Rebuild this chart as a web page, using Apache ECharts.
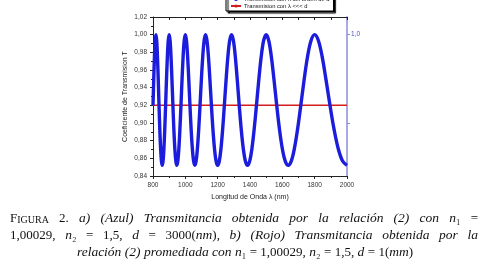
<!DOCTYPE html>
<html><head><meta charset="utf-8">
<script src="https://cdn.jsdelivr.net/npm/echarts@6/dist/echarts.min.js"></script>
<style>html,body{margin:0;padding:0;background:#fff}#c{width:489px;height:272px}</style>
</head><body><div id="c"></div>
<script>
// Wavelength samples (nm)
const lambdaBlue = [800, 804.5, 809.0, 813.6, 818.2, 822.9, 827.6, 832.4, 837.2, 842.1, 847.1, 852.1, 857.1, 862.3, 867.5, 872.7, 878.0, 883.4, 888.9, 894.4, 900, 905.7, 911.4, 917.2, 923.1, 929.0, 935.1, 941.2, 947.4, 953.6, 960, 966.4, 973.0, 979.6, 986.3, 993.1, 1000, 1007.0, 1014.1, 1021.3, 1028.6, 1036.0, 1043.5, 1051.1, 1058.8, 1066.7, 1074.6, 1082.7, 1090.9, 1099.2, 1107.7, 1116.3, 1125, 1133.9, 1142.9, 1152, 1161.3, 1170.7, 1180.3, 1190.1, 1200, 1210.1, 1220.3, 1230.8, 1241.4, 1252.2, 1263.2, 1274.3, 1285.7, 1297.3, 1309.1, 1321.1, 1333.3, 1345.8, 1358.5, 1371.4, 1384.6, 1398.1, 1411.8, 1425.7, 1440, 1454.5, 1469.4, 1484.5, 1500, 1515.8, 1531.9, 1548.4, 1565.2, 1582.4, 1600, 1618.0, 1636.4, 1655.2, 1674.4, 1694.1, 1714.3, 1734.9, 1756.1, 1777.8, 1800, 1822.8, 1846.2, 1870.1, 1894.7, 1920, 1945.9, 1972.6, 2000];
// Transmission T (blue)
const tBlue = [0.9201, 0.9491, 0.9752, 0.9934, 1.0,
  0.9934, 0.9752, 0.9491, 0.9201, 0.8928, 0.8709, 0.8569, 0.8521, 0.8569, 0.8709, 0.8928, 0.9201, 0.9491, 0.9752, 0.9934, 1.0,
  0.9934, 0.9752, 0.9491, 0.9201, 0.8928, 0.8709, 0.8569, 0.8521, 0.8569, 0.8709, 0.8928, 0.9201, 0.9491, 0.9752, 0.9934, 1.0,
  0.9934, 0.9752, 0.9491, 0.9201, 0.8928, 0.8709, 0.8569, 0.8521, 0.8569, 0.8709, 0.8928, 0.9201, 0.9491, 0.9752, 0.9934, 1.0,
  0.9934, 0.9752, 0.9491, 0.9201, 0.8928, 0.8709, 0.8569, 0.8521, 0.8569, 0.8709, 0.8928, 0.9201, 0.9491, 0.9752, 0.9934, 1.0,
  0.9934, 0.9752, 0.9491, 0.9201, 0.8928, 0.8709, 0.8569, 0.8521, 0.8569, 0.8709, 0.8928, 0.9201, 0.9491, 0.9752, 0.9934, 1.0,
  0.9934, 0.9752, 0.9491, 0.9201, 0.8928, 0.8709, 0.8569, 0.8521, 0.8569, 0.8709, 0.8928, 0.9201, 0.9491, 0.9752, 0.9934, 1.0,
  0.9934, 0.9752, 0.9491, 0.9201, 0.8928, 0.8709, 0.8569, 0.8521];
// Averaged transmission (red)
const lambdaRed = [800, 2000];
const tRed = [0.92, 0.92];

const seriesNames = ['Transmision con \u03bb del orden de d', 'Transmision con \u03bb <<< d'];
const xTitle = 'Longitud de Onda \u03bb (nm)';
const yTitle = 'Coeficiente de Transmision T';

// Caption: words made of [style, text] pieces; R roman, I italic, C small caps
const capLine1 = [[['R','F'],['C','IGURA']],[['R','2.']],[['I','a)']],[['I','(Azul)']],[['I','Transmitancia']],[['I','obtenida']],[['I','por']],[['I','la']],[['I','relación']],[['I','(2)']],[['I','con']],[['I','n'],['R','\u2081']],[['R','=']]];
const capLine2 = [[['R','1,00029,']],[['I','n'],['R','\u2082']],[['R','=']],[['R','1,5,']],[['I','d']],[['R','=']],[['R','3000('],['I','nm'],['R','),']],[['I','b)']],[['I','(Rojo)']],[['I','Transmitancia']],[['I','obtenida']],[['I','por']],[['I','la']]];
const capLine3 = [[['I','relación']],[['I','(2)']],[['I','promediada']],[['I','con']],[['I','n'],['R','\u2081']],[['R','=']],[['R','1,00029,']],[['I','n'],['R','\u2082']],[['R','=']],[['R','1,5,']],[['I','d']],[['R','=']],[['R','1('],['I','mm'],['R',')']]];

const fmt = v => v.toFixed(2).replace('.', ',');
const chart = echarts.init(document.getElementById('c'), null, {renderer: 'canvas'});

const fs = 13;
const fonts = {R: fs + 'px "Liberation Serif"', I: 'italic ' + (fs + 0.5) + 'px "Liberation Serif"', C: Math.round(fs*0.8) + 'px "Liberation Serif"'};
const mctx = document.createElement('canvas').getContext('2d');
function w(piece){ mctx.font = fonts[piece[0]]; return mctx.measureText(piece[1]).width; }
const graphics = [];
function layLine(words, baseY, mode, left, right, center){
  const ww = words.map(wd => wd.reduce((s,p)=>s+w(p),0));
  const total = ww.reduce((a,b)=>a+b,0);
  let gap, x;
  if (mode === 'justify'){ gap = (right - left - total)/(words.length-1); x = left; }
  else { gap = 3.4; x = center - (total + gap*(words.length-1))/2; }
  words.forEach((wd,i)=>{
    let px = x;
    wd.forEach(p=>{
      graphics.push({type:'text', x:px, y:baseY, silent:true,
        style:{text:p[1], font:fonts[p[0]], fill:'#111', textAlign:'left', verticalAlign:'bottom', textVerticalAlign:'bottom'}});
      px += w(p);
    });
    x += ww[i] + gap;
  });
}
layLine(capLine1, 225, 'justify', 10, 478);
layLine(capLine2, 242, 'justify', 10, 478);
layLine(capLine3, 259, 'center', 0, 0, 245);

const axisFont = {fontFamily: 'Liberation Sans', fontSize: 6.5, color: '#333'};
chart.setOption({
  animation: false,
  grid: {left: 153, right: 142, top: 17, bottom: 96},
  legend: {
    orient: 'vertical', left: 226, top: -6, itemGap: 1, padding: [2, 4, 2, 4],
    itemWidth: 10, itemHeight: 4,
    backgroundColor: '#fff', borderColor: '#000', borderWidth: 1,
    shadowColor: '#000', shadowBlur: 1, shadowOffsetX: 2, shadowOffsetY: 2,
    textStyle: {fontFamily: 'Liberation Sans', fontSize: 5.8, color: '#111', padding: [0,0,0,-2]},
    data: [{name: seriesNames[0], icon: 'circle'}, {name: seriesNames[1]}]
  },
  xAxis: [
    {type: 'value', min: 800, max: 2000, interval: 200, position: 'bottom',
     axisLine: {lineStyle: {color: '#222', width: 1}},
     axisTick: {inside: false, length: 3, lineStyle: {color: '#222'}},
     minorTick: {show: true, splitNumber: 2, length: 2, lineStyle: {color: '#222'}},
     axisLabel: Object.assign({margin: 6, formatter: v => String(v)}, axisFont),
     splitLine: {show: false},
     name: xTitle, nameLocation: 'middle', nameGap: 18,
     nameTextStyle: {fontFamily: 'Liberation Sans', fontSize: 7, color: '#222'}},
    {type: 'value', min: 800, max: 2000, interval: 200, position: 'top',
     axisLine: {lineStyle: {color: '#222', width: 1}},
     axisTick: {inside: true, length: 3, lineStyle: {color: '#222'}},
     minorTick: {show: true, splitNumber: 2, length: 3, lineStyle: {color: '#222'}},
     axisLabel: {show: false}, splitLine: {show: false}}
  ],
  yAxis: [
    {type: 'value', min: 0.84, max: 1.02, interval: 0.02, position: 'left',
     axisLine: {show: true, lineStyle: {color: '#222', width: 1}},
     axisTick: {show: true, inside: false, length: 3, lineStyle: {color: '#222'}},
     minorTick: {show: true, splitNumber: 2, length: 2, lineStyle: {color: '#222'}},
     axisLabel: Object.assign({margin: 6, formatter: fmt}, axisFont),
     splitLine: {show: false},
     name: yTitle, nameLocation: 'middle', nameGap: 24, nameRotate: 90,
     nameTextStyle: {fontFamily: 'Liberation Sans', fontSize: 7, color: '#222'}},
    {type: 'value', min: 0.84, max: 1.02, position: 'right',
     axisLine: {show: true, lineStyle: {color: '#a9a9e6', width: 2}},
     axisTick: {show: true, inside: false, length: 3, customValues: [0.9, 1.0], lineStyle: {color: '#8a8ad8', width: 1}},
     axisLabel: {show: true, customValues: [1.0], formatter: () => '1,0', margin: 4,
       fontFamily: 'Liberation Sans', fontSize: 6.5, color: '#4a4ac8'},
     splitLine: {show: false}}
  ],
  series: [
    {name: seriesNames[1], type: 'line', xAxisIndex: 0, yAxisIndex: 0, showSymbol: false, symbol: 'none',
     data: lambdaRed.map((x, i) => [x, tRed[i]]),
     lineStyle: {color: '#d41c1c', width: 1.5}, itemStyle: {color: '#d41c1c'}, z: 2},
    {name: seriesNames[0], type: 'line', xAxisIndex: 0, yAxisIndex: 0, showSymbol: false, symbol: 'none', smooth: 0.35,
     data: lambdaBlue.map((x, i) => [x, tBlue[i]]),
     lineStyle: {color: '#1c1cdc', width: 3.4}, itemStyle: {color: '#1c1cdc'}, z: 3}
  ],
  graphic: graphics
});
</script></body></html>
